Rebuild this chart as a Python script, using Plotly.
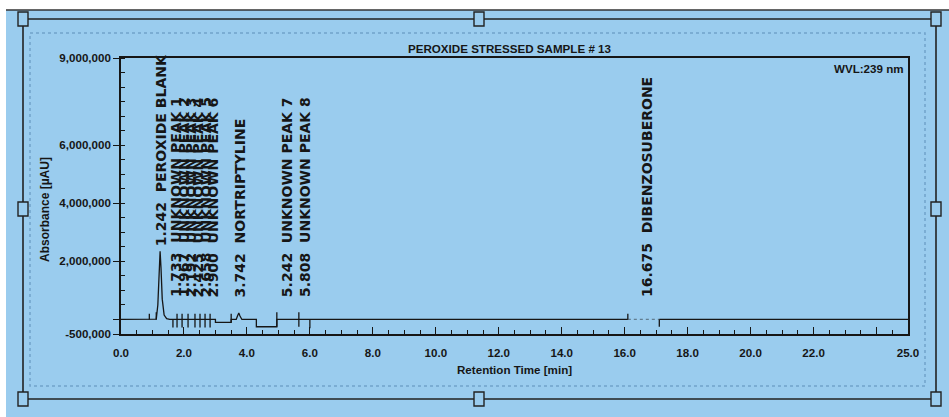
import plotly.graph_objects as go

# ---- chromatogram signal: retention time [min] vs absorbance [µAU] ----
time_min = [0.00, 0.90, 1.12, 1.17, 1.21, 1.242, 1.27, 1.31, 1.37, 1.45, 1.55,
            3.00, 3.00, 3.50, 3.50, 3.66, 3.70, 3.742, 3.78, 3.84,
            4.30, 4.30, 4.95, 4.95, 16.10]
absorbance = [0, 0, 10000, 500000, 1700000, 2350000, 1800000, 700000, 150000, 30000, 0,
              0, -100000, -100000, 0, 0, 120000, 220000, 120000, 0,
              0, -250000, -250000, 0, 0]

# faint stretch under the dibenzosuberone window, then the flat tail
gap_time = [16.10, 17.10]
gap_abs = [0, 0]
tail_time = [17.10, 25.0]
tail_abs = [0, 0]

# integration delimiters (time, lower end, upper end)
delim_time = [0.90, 1.12, 1.65, 1.78, 1.94, 2.13, 2.35, 2.51, 2.67, 2.83,
              3.50, 4.95, 5.65, 6.00, 16.10, 17.10]
delim_low = [0, 0, -280000, -280000, -280000, -280000, -280000, -280000, -280000, -280000,
             -100000, -250000, -250000, -300000, 0, -250000]
delim_high = [200000, 250000, 0, 200000, 200000, 200000, 200000, 200000, 200000, 200000,
              200000, 250000, 250000, 0, 200000, 0]

# identified peaks
peak_time = [1.242, 1.733, 1.967, 2.192, 2.425, 2.658, 2.900, 3.742, 5.242, 5.808, 16.675]
peak_name = ["PEROXIDE BLANK", "UNKNOWN PEAK 1", "UNKNOWN PEAK 2", "UNKNOWN PEAK 3",
             "UNKNOWN PEAK 4", "UNKNOWN PEAK 5", "UNKNOWN PEAK 6", "NORTRIPTYLINE",
             "UNKNOWN PEAK 7", "UNKNOWN PEAK 8", "DIBENZOSUBERONE"]
peak_apex = [2350000, 0, 0, 0, 0, 0, 0, 220000, 0, 0, 0]

# axis ticks
x_tick_vals = [0, 2, 4, 6, 8, 10, 12, 14, 16, 18, 20, 22, 24, 25]
x_tick_text = ["0.0", "2.0", "4.0", "6.0", "8.0", "10.0", "12.0", "14.0", "16.0",
               "18.0", "20.0", "22.0", "", "25.0"]
y_tick_vals = [-500000, 0, 2000000, 4000000, 6000000, 9000000]
y_tick_text = ["-500,000", "", "2,000,000", "4,000,000", "6,000,000", "9,000,000"]

title_text = "PEROXIDE STRESSED SAMPLE # 13"
wavelength_text = "WVL:239 nm"
x_title = "Retention Time [min]"
y_title = "Absorbance [µAU]"

# ---- styling ----
W, H = 949, 417
L, R, T, B = 121, 41, 58, 83
BG = "#9accee"
INK = "#161616"
SANS = "Liberation Sans, Arial"
TXT = 11.6
LABEL_FONT = dict(family="DejaVu Sans", size=14, color=INK, weight="bold")
LABEL_FLOOR = 700000


def px(x):
    return (x - L) / (W - L - R)


def py(y):
    return (H - B - y) / (H - T - B)


def sans(size=TXT):
    return dict(family=SANS, size=size, color=INK, weight="bold")


fig = go.Figure()

fig.add_trace(go.Scatter(x=time_min, y=absorbance, mode="lines",
                         line=dict(color=INK, width=1.3), hoverinfo="skip"))
fig.add_trace(go.Scatter(x=gap_time, y=gap_abs, mode="lines",
                         line=dict(color="rgba(30,30,30,0.45)", width=1.3, dash="dot"),
                         hoverinfo="skip"))
fig.add_trace(go.Scatter(x=tail_time, y=tail_abs, mode="lines",
                         line=dict(color=INK, width=1.3), hoverinfo="skip"))

dx, dy = [], []
for t, lo, hi in zip(delim_time, delim_low, delim_high):
    dx += [t, t, None]
    dy += [lo, hi, None]
fig.add_trace(go.Scatter(x=dx, y=dy, mode="lines",
                         line=dict(color=INK, width=1.3), hoverinfo="skip"))

# vertical peak labels
for t, name, apex in zip(peak_time, peak_name, peak_apex):
    anchor = apex if apex > LABEL_FLOOR else LABEL_FLOOR
    fig.add_annotation(x=t, y=anchor, xref="x", yref="y",
                       text=f"{t:.3f}\u00a0\u00a0{name}", textangle=-90,
                       xanchor="center", yanchor="bottom", xshift=1,
                       yshift=3 if apex > LABEL_FLOOR else 0,
                       showarrow=False, font=LABEL_FONT)

# titles
fig.add_annotation(x=px(509), y=py(48), xref="paper", yref="paper", text=title_text,
                   showarrow=False, xanchor="center", yanchor="middle", font=sans())
fig.add_annotation(x=px(906), y=py(68), xref="paper", yref="paper", text=wavelength_text,
                   showarrow=False, xanchor="right", yanchor="middle", font=sans())
fig.add_annotation(x=px(514), y=py(369), xref="paper", yref="paper", text=x_title,
                   showarrow=False, xanchor="center", yanchor="middle", font=sans())
fig.add_annotation(x=px(45), y=py(210), xref="paper", yref="paper", text=y_title,
                   showarrow=False, xanchor="center", yanchor="middle", textangle=-90,
                   font=sans(12))

# page decoration: white edge strips, outer frame with handles, faint inner border
shapes = [
    dict(type="rect", xref="paper", yref="paper", x0=px(0), x1=px(W), y0=py(0), y1=py(10),
         fillcolor="white", line=dict(width=0), layer="below"),
    dict(type="rect", xref="paper", yref="paper", x0=px(0), x1=px(6), y0=py(0), y1=py(H),
         fillcolor="white", line=dict(width=0), layer="below"),
    dict(type="line", xref="paper", yref="paper", x0=px(6), x1=px(W), y0=py(10), y1=py(10),
         line=dict(color="#333", width=1.5)),
    dict(type="rect", xref="paper", yref="paper", x0=px(30), x1=px(925), y0=py(33), y1=py(386),
         line=dict(color="rgba(40,90,140,0.35)", width=1.5, dash="dot")),
    dict(type="rect", xref="paper", yref="paper", x0=px(23), x1=px(936), y0=py(19), y1=py(399),
         line=dict(color="#222", width=1.6)),
]
handle_pts = [(23, 19), (479, 19), (936, 19), (23, 209), (936, 209),
              (23, 399), (479, 399), (936, 399)]
for hx, hy in handle_pts:
    shapes.append(dict(type="rect", xref="paper", yref="paper",
                       x0=px(hx - 5), x1=px(hx + 5), y0=py(hy - 7), y1=py(hy + 7),
                       fillcolor=BG, line=dict(color="#222", width=1.4)))

fig.update_layout(
    width=W, height=H,
    margin=dict(l=L, r=R, t=T, b=B, autoexpand=False),
    paper_bgcolor=BG, plot_bgcolor=BG,
    showlegend=False,
    shapes=shapes,
    xaxis=dict(range=[0, 25], tickvals=x_tick_vals, ticktext=x_tick_text,
               showgrid=False, zeroline=False, showline=True, linecolor=INK, linewidth=1.5,
               mirror=True, ticks="inside", ticklen=7, tickcolor=INK, tickwidth=1.3,
               ticklabelstandoff=7,
               minor=dict(dtick=0.5, ticks="inside", ticklen=4, tickcolor=INK, tickwidth=1.2),
               tickfont=sans(), fixedrange=True),
    yaxis=dict(range=[-500000, 9000000], tickvals=y_tick_vals, ticktext=y_tick_text,
               showgrid=False, zeroline=False, showline=True, linecolor=INK, linewidth=1.5,
               mirror=True, ticks="outside", ticklen=6, tickcolor=INK, tickwidth=1.3,
               minor=dict(dtick=500000, ticks="inside", ticklen=4, tickcolor=INK, tickwidth=1.2),
               tickfont=sans(), fixedrange=True),
)

fig.write_html("out.html")
